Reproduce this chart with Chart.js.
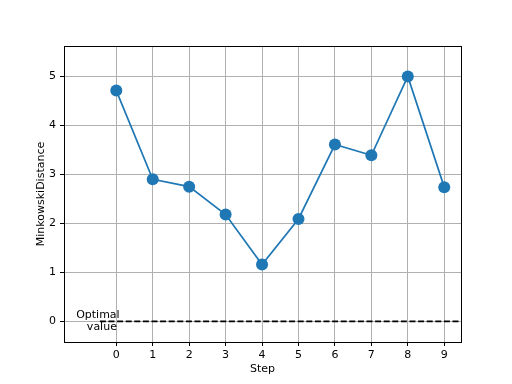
<!DOCTYPE html>
<html><head><meta charset="utf-8">
<script src="https://cdn.jsdelivr.net/npm/chart.js@4/dist/chart.umd.min.js"></script>
<style>html,body{margin:0;padding:0;background:#fff}</style>
</head><body>
<canvas id="c" width="512" height="384"></canvas>
<script>
const steps = [0, 1, 2, 3, 4, 5, 6, 7, 8, 9];
const distances = [4.71, 2.90, 2.75, 2.18, 1.16, 2.09, 3.61, 3.39, 5.00, 2.74];
const yTicks = [0, 1, 2, 3, 4, 5];
const optimalValue = 0;
const optimalLabel = ['Optimal', 'value'];
const xRange = [-1.435, 9.46];
const yRange = [-0.42, 5.62];
const optimalLineStart = -0.45;

const FONT = "'DejaVu Sans', sans-serif";
const tickFont = { family: FONT, size: 11 };

const framePlugin = {
  id: 'frame',
  afterDatasetsDraw(chart) {
    const { ctx, chartArea: a, scales } = chart;
    ctx.save();
    ctx.strokeStyle = '#000';
    ctx.lineWidth = 1;
    ctx.strokeRect(Math.round(a.left) + 0.5, Math.round(a.top) + 0.5,
      Math.round(a.right - a.left), Math.round(a.bottom - a.top));
    // annotation text
    const px = scales.x.getPixelForValue(optimalLineStart);
    const py = scales.y.getPixelForValue(optimalValue);
    ctx.fillStyle = '#000';
    ctx.font = "11px " + FONT;
    ctx.textAlign = 'center';
    ctx.textBaseline = 'alphabetic';
    ctx.fillText(optimalLabel[0], px - 2, py - 3);
    ctx.fillText(optimalLabel[1], px + 2, py + 9);
    ctx.restore();
  }
};

new Chart(document.getElementById('c'), {
  type: 'scatter',
  data: {
    datasets: [
      {
        data: steps.map((s, i) => ({ x: s, y: distances[i] })),
        showLine: true,
        borderColor: '#1f77b4',
        backgroundColor: '#1f77b4',
        borderWidth: 1.7,
        pointRadius: 6,
        pointBorderWidth: 0,
        pointHoverRadius: 6,
        tension: 0,
        order: 1
      },
      {
        data: [{ x: optimalLineStart, y: optimalValue }, { x: xRange[1], y: optimalValue }],
        showLine: true,
        borderColor: '#000',
        borderWidth: 1.7,
        borderDash: [6, 2.6],
        pointRadius: 0,
        order: 2
      }
    ]
  },
  options: {
    responsive: false,
    animation: false,
    events: [],
    layout: { autoPadding: false, padding: { top: 46, right: 51, left: 0, bottom: 0 } },
    plugins: { legend: { display: false }, tooltip: { enabled: false } },
    scales: {
      x: {
        type: 'linear',
        min: xRange[0], max: xRange[1],
        afterBuildTicks: s => { s.ticks = steps.map(v => ({ value: v })); },
        afterFit: s => { s.height = 42; },
        ticks: { font: tickFont, color: '#000', padding: 3, autoSkip: false, maxRotation: 0, minRotation: 0 },
        grid: { color: '#b0b0b0', lineWidth: 1, tickColor: '#000', tickLength: 4, drawTicks: true },
        border: { display: false },
        title: { display: true, text: 'Step', font: tickFont, color: '#000', padding: { top: 0, bottom: 8 } }
      },
      y: {
        type: 'linear',
        min: yRange[0], max: yRange[1],
        afterBuildTicks: s => { s.ticks = yTicks.map(v => ({ value: v })); },
        afterFit: s => { s.width = 64; },
        ticks: { font: tickFont, color: '#000', padding: 4 },
        grid: { color: '#b0b0b0', lineWidth: 1, tickColor: '#000', tickLength: 4, drawTicks: true },
        border: { display: false },
        title: { display: true, text: 'MinkowskiDistance', font: tickFont, color: '#000', padding: { top: 35, bottom: 0 } }
      }
    }
  },
  plugins: [framePlugin]
});
</script>
</body></html>
